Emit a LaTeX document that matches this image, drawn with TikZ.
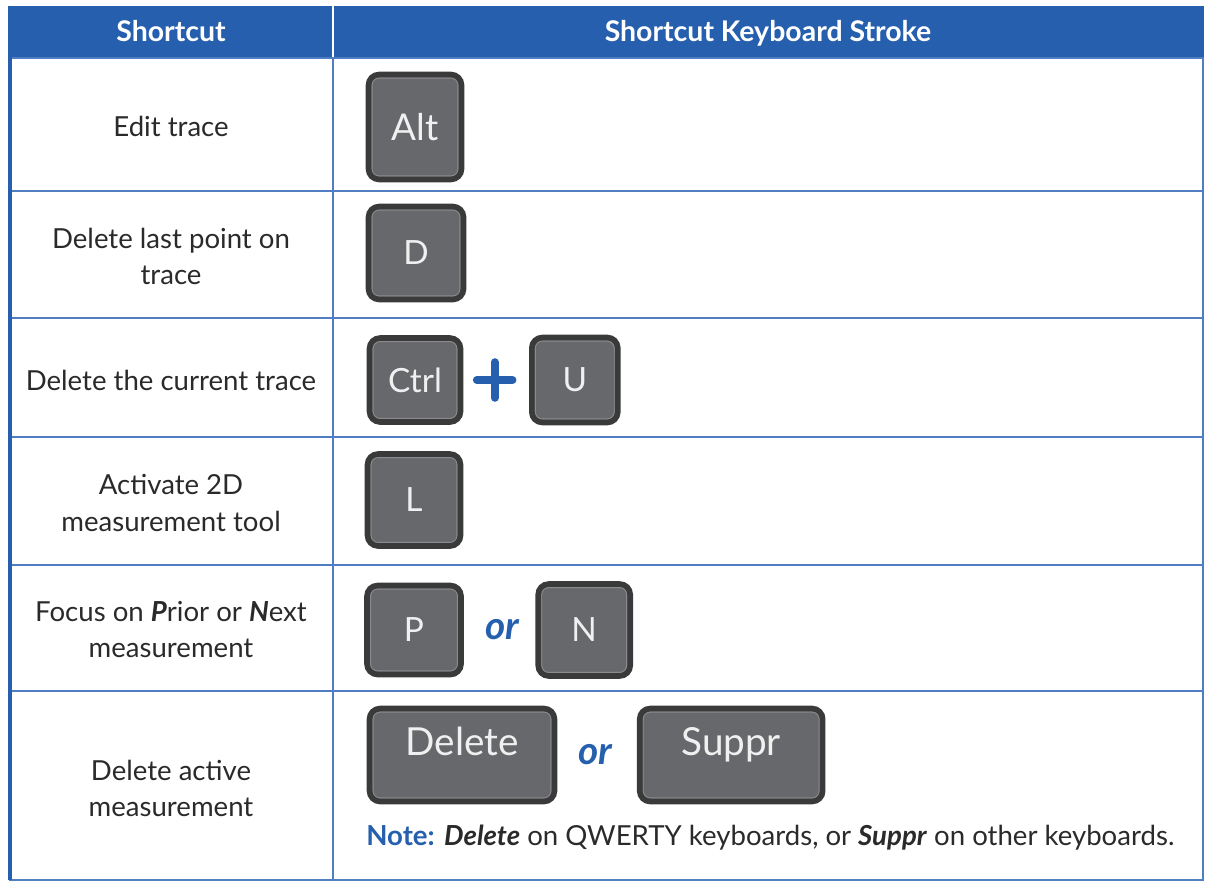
\documentclass[tikz,border=0pt]{standalone}
\usepackage{fontspec}
\setmainfont{Lato}
\usepackage{tikz}
\usetikzlibrary{positioning}

\definecolor{headblue}{HTML}{255FAD}
\definecolor{gridblue}{HTML}{4F7EC3}
\definecolor{keyrim}{HTML}{3A3A3B}
\definecolor{keyface}{HTML}{67686B}
\definecolor{keyshine}{HTML}{8A8B8E}
\definecolor{bodytext}{HTML}{2A2A2A}

\tikzset{
  cell/.style={text=bodytext, font=\fontsize{15.7}{20.5}\selectfont, align=center},
  head/.style={text=white, font=\bfseries\fontsize{16.2}{18}\selectfont,
    text height=0.4cm, text depth=0.1cm},
  key/.style 2 args={draw=keyrim, fill=keyface, line width=3.2pt, rounded corners=6pt,
    inner sep=0pt, text=white!94!black, font=\fontsize{19}{19}\selectfont,
    minimum width=#1, minimum height=#2,
    path picture={\draw[keyshine, line width=0.6pt, rounded corners=4pt]
      ([shift={(0.07cm,-0.07cm)}]path picture bounding box.north west) rectangle
      ([shift={(-0.07cm,0.07cm)}]path picture bounding box.south east);}},
  bigkey/.style 2 args={key={#1}{#2}, font=\fontsize{22}{22}\selectfont,
    text height=0.56cm, text depth=0.56cm},
  orword/.style={text=headblue, inner sep=0pt, font=\bfseries\itshape\fontsize{22}{22}\selectfont},
  plusbar/.style={headblue, line width=4.5pt, line cap=round},
  grid/.style={gridblue, line width=1.1pt}
}

\begin{document}
\begin{tikzpicture}[x=0.02cm,y=-0.02cm]
  \useasboundingbox (0,0) rectangle (1209,882);

  % header
  \fill[headblue] (9,6) rectangle (1204,58);
  \draw[white, line width=0.9pt] (333,6) -- (333,58);
  \node[head] (h1) at (171,34) {Shortcut};
  \node[head] (h2) at (768,34) {Shortcut Keyboard Stroke};

  % grid
  \foreach \y in {58,191,318,437,565,691,880}
    \draw[grid] (9,\y) -- (1204,\y);
  \draw[grid] (333,58) -- (333,880);
  \draw[grid] (1203,58) -- (1203,880);
  \draw[headblue, line width=1.8pt] (10,6) -- (10,880);

  % left column
  \node[cell] (s1) at (171,126) {Edit trace};
  \node[cell] (s2) at (171,256) {Delete last point on\\trace};
  \node[cell] (s3) at (171,380) {Delete the current trace};
  \node[cell] (s4) at (171,503) {Activate 2D\\measurement tool};
  \node[cell] (s5) at (171,630) {Focus on \textbf{\textit{P}}rior or \textbf{\textit{N}}ext\\measurement};
  \node[cell] (s6) at (171,788) {Delete active\\measurement};

  % keys
  \node[key={1.86cm}{2.10cm}, font=\fontsize{21}{21}\selectfont] (alt) at (415,127) {Alt};
  \node[key={1.90cm}{1.86cm}] (d) at (416,253) {D};

  \node[key={1.82cm}{1.68cm}] (ctrl) at (415,380) {Ctrl};
  \node[right=0.27cm of ctrl, minimum size=0.7cm, inner sep=0pt] (plus) {};
  \draw[plusbar] (plus.north) -- (plus.south) (plus.west) -- (plus.east);
  \node[key={1.72cm}{1.70cm}, right=0.33cm of plus] (u) {U};

  \node[key={1.86cm}{1.84cm}] (l) at (414,500) {L};

  \node[key={1.88cm}{1.78cm}] (p) at (414,630) {P};
  \node[orword, right=0.42cm of p] (or1) {or};
  \node[key={1.84cm}{1.84cm}, right=0.32cm of or1] (n) {N};

  \node[bigkey={3.70cm}{1.86cm}] (del) at (462,755) {Delete};
  \node[orword, right=0.42cm of del] (or2) {or};
  \node[bigkey={3.66cm}{1.86cm}, right=0.48cm of or2] (suppr) {Suppr};

  \node[cell, anchor=west, inner sep=0pt, font=\fontsize{15.7}{16}\selectfont] (note) at (366,838)
    {{\color{headblue}\bfseries Note:} \textbf{\textit{Delete}} on QWERTY keyboards, or \textbf{\textit{Suppr}} on other keyboards.};
\end{tikzpicture}
\end{document}
